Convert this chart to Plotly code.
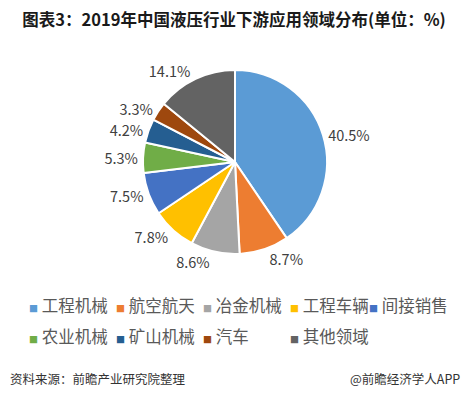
import plotly.graph_objects as go

categories = ["工程机械", "航空航天", "冶金机械", "工程车辆", "间接销售",
              "农业机械", "矿山机械", "汽车", "其他领域"]
values = [40.5, 8.7, 8.6, 7.8, 7.5, 5.3, 4.2, 3.3, 14.1]
colors = ["#5B9BD5", "#ED7D31", "#A5A5A5", "#FFC000", "#4472C4",
          "#70AD47", "#255E91", "#9E480E", "#636363"]
legend_rows = ["legend", "legend", "legend", "legend", "legend3",
               "legend2", "legend2", "legend2", "legend2"]

FONT = "Microsoft YaHei, Noto Sans CJK SC, sans-serif"

fig = go.Figure()
fig.add_trace(go.Pie(
    labels=categories, values=values, sort=False, direction="clockwise",
    rotation=0, marker=dict(colors=colors, line=dict(color="white", width=2)),
    texttemplate="%{value:.1f}%", textposition="outside",
    textfont=dict(size=14.5, color="#404040", family=FONT),
    showlegend=False, hoverinfo="label+percent",
    domain=dict(x=[143 / 468, 327 / 468], y=[1 - 254 / 399, 1 - 70 / 399]),
))

for c, col, lg in zip(categories, colors, legend_rows):
    fig.add_trace(go.Scatter(
        x=[None], y=[None], mode="markers",
        name=f'<span style="font-size:9px;color:{col}">■</span> {c}',
        marker=dict(symbol="square", size=1, color="rgba(0,0,0,0)"),
        legend=lg,
    ))
# invisible spacer entries so the last real entry of each row is not clipped
for lg in ["legend", "legend2"]:
    fig.add_trace(go.Scatter(
        x=[None], y=[None], mode="markers", name="\u00a0",
        marker=dict(symbol="square", size=1, color="rgba(0,0,0,0)"),
        legend=lg, hoverinfo="skip",
    ))

legend_font = dict(size=16.5, color="#595959", family=FONT)
legend_common = dict(
    orientation="h", xanchor="left", yanchor="middle",
    font=legend_font, entrywidth=53, entrywidthmode="pixels",
    bgcolor="rgba(0,0,0,0)", itemwidth=30, indentation=-11,
)

fig.update_layout(
    width=468, height=399,
    margin=dict(l=0, r=0, t=0, b=0),
    paper_bgcolor="white", plot_bgcolor="white",
    font=dict(family=FONT),
    title=dict(text="<b>图表3：2019年中国液压行业下游应用领域分布(单位：%)</b>",
               x=0.5, xanchor="center", y=1 - 20 / 399, yanchor="middle",
               font=dict(size=16.5, color="#1a1a1a", family=FONT)),
    xaxis=dict(visible=False), yaxis=dict(visible=False),
    legend=dict(x=0, y=1 - 306 / 399, **legend_common),
    legend2=dict(x=0, y=1 - 337 / 399, **legend_common),
    legend3=dict(x=329 / 468, y=1 - 306 / 399, orientation="h",
                 xanchor="left", yanchor="middle", font=legend_font,
                 bgcolor="rgba(0,0,0,0)", itemwidth=30),
    annotations=[
        dict(text="资料来源：前瞻产业研究院整理", x=8 / 468, y=1 - 378 / 399,
             xref="paper", yref="paper", xanchor="left", yanchor="middle",
             showarrow=False, font=dict(size=12.5, color="#333333", family=FONT)),
        dict(text="@前瞻经济学人APP", x=462 / 468, y=1 - 378 / 399,
             xref="paper", yref="paper", xanchor="right", yanchor="middle",
             showarrow=False, font=dict(size=12.5, color="#333333", family=FONT)),
    ],
)

fig.write_html("out.html", config={"displayModeBar": False},
               post_script="document.body.style.margin='0';document.body.style.padding='0';")
